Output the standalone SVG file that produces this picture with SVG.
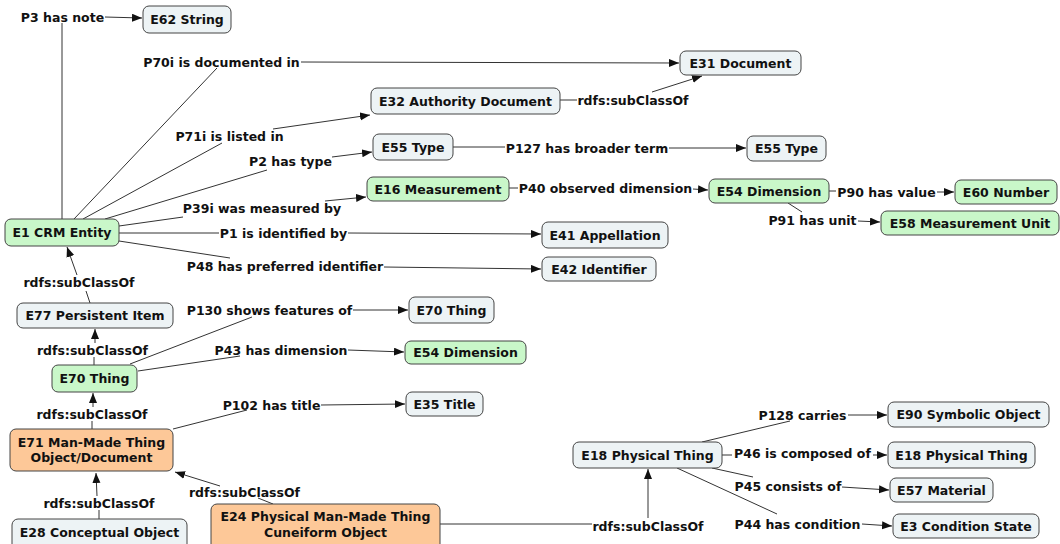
<svg xmlns="http://www.w3.org/2000/svg" width="1060" height="544" viewBox="0 0 1060 544">
<style>
text{font-family:"DejaVu Sans",Verdana,sans-serif;font-weight:bold;font-size:12.5px;fill:#111;text-anchor:middle}
.n rect{stroke:#444;stroke-width:1;rx:6;ry:6}
.g rect{fill:#edf3f5}
.v rect{fill:#c9f7c9}
.o rect{fill:#fdc898}
#edges path{fill:none;stroke:#333;stroke-width:1}
#edges path.a{marker-end:url(#ar)}
</style>
<defs>
<marker id="ar" markerUnits="userSpaceOnUse" markerWidth="11" markerHeight="9" refX="10" refY="4" orient="auto">
<path d="M0,0 L10,4 L0,8 z" fill="#111"/>
</marker>
</defs>
<rect width="1060" height="544" fill="#fff"/>
<g id="edges">
<path d="M62,219 L62,23"/><path class="a" d="M105,17 L142,18"/>
<path d="M74,219 L217,68"/><path class="a" d="M301,62 L679,63"/>
<path d="M83,219 L222,143"/><path class="a" d="M273,129 L370,115"/>
<path d="M105,219 L267,170"/><path class="a" d="M332,157 L372,152"/>
<path d="M119,226 L183,217"/><path class="a" d="M325,201 L366,197"/>
<path d="M119,233 L219,233"/><path class="a" d="M348,233 L541,234"/>
<path d="M119,241 L230,258"/><path class="a" d="M384,267 L541,269"/>
<path d="M560,100 L577,100"/><path class="a" d="M652,92 L702,76"/>
<path d="M453,147 L505,147"/><path class="a" d="M669,148 L746,148"/>
<path d="M509,188 L518,188"/><path class="a" d="M693,189 L708,190"/>
<path d="M829,191 L836,191"/><path class="a" d="M937,192 L954,192"/>
<path d="M788,203 L802,212"/><path class="a" d="M858,221 L880,222"/>
<path d="M90,303 L86,291"/><path class="a" d="M77,275 L67,247"/>
<path d="M94,365 L94,357"/><path class="a" d="M95,343 L95,329"/>
<path d="M130,364 L252,317"/><path class="a" d="M353,310 L408,310"/>
<path d="M138,371 L240,356"/><path class="a" d="M348,350 L404,352"/>
<path d="M92,429 L92,421"/><path class="a" d="M93,407 L93,393"/>
<path d="M173,429 L247,410"/><path class="a" d="M321,405 L405,404"/>
<path d="M99,519 L99,510"/><path class="a" d="M97,496 L96,473"/>
<path d="M273,504 L258,498"/><path class="a" d="M220,486 L175,472"/>
<path d="M440,524 L592,524"/><path class="a" d="M648,518 L648,469"/>
<path d="M702,442 L790,421"/><path class="a" d="M848,415 L887,415"/>
<path d="M722,455 L732,455"/><path class="a" d="M873,455 L887,455"/>
<path d="M712,468 L753,477"/><path class="a" d="M842,487 L889,490"/>
<path d="M677,468 L777,514"/><path class="a" d="M862,524 L892,526"/>
</g>
<g id="labels">
<text x="62.5" y="21.5">P3 has note</text>
<text x="221.5" y="66.5">P70i is documented in</text>
<text x="229.5" y="140.5">P71i is listed in</text>
<text x="290.5" y="165.5">P2 has type</text>
<text x="262" y="212.5">P39i was measured by</text>
<text x="283.5" y="237.5">P1 is identified by</text>
<text x="285" y="270.5">P48 has preferred identifier</text>
<text x="633" y="104.5">rdfs:subClassOf</text>
<text x="587" y="152.5">P127 has broader term</text>
<text x="605.5" y="192.5">P40 observed dimension</text>
<text x="886.5" y="196.5">P90 has value</text>
<text x="812.5" y="224.5">P91 has unit</text>
<text x="79" y="286.5">rdfs:subClassOf</text>
<text x="269.5" y="314.5">P130 shows features of</text>
<text x="92.5" y="354.5">rdfs:subClassOf</text>
<text x="281" y="354.5">P43 has dimension</text>
<text x="92" y="418.5">rdfs:subClassOf</text>
<text x="271.5" y="409.5">P102 has title</text>
<text x="99" y="507.5">rdfs:subClassOf</text>
<text x="244.5" y="496.5">rdfs:subClassOf</text>
<text x="802.5" y="419.5">P128 carries</text>
<text x="802.5" y="457.5">P46 is composed of</text>
<text x="788" y="490.5">P45 consists of</text>
<text x="797.5" y="528.5">P44 has condition</text>
<text x="648" y="530.5">rdfs:subClassOf</text>
</g>
<g id="n_e62" class="n g"><rect x="143" y="6" width="88" height="27"/><text x="187" y="24">E62 String</text></g>
<g id="n_e31" class="n g"><rect x="680" y="51" width="121" height="24"/><text x="740.5" y="67.5">E31 Document</text></g>
<g id="n_e32" class="n g"><rect x="371" y="88" width="189" height="26"/><text x="465.5" y="105.5">E32 Authority Document</text></g>
<g id="n_e55a" class="n g"><rect x="373" y="134" width="80" height="26"/><text x="413" y="151.5">E55 Type</text></g>
<g id="n_e55b" class="n g"><rect x="747" y="136" width="79" height="25"/><text x="786.5" y="153">E55 Type</text></g>
<g id="n_e16" class="n v"><rect x="367" y="177" width="142" height="24"/><text x="438" y="193.5">E16 Measurement</text></g>
<g id="n_e54a" class="n v"><rect x="709" y="179" width="120" height="24"/><text x="769" y="195.5">E54 Dimension</text></g>
<g id="n_e60" class="n v"><rect x="955" y="180" width="102" height="24"/><text x="1006" y="196.5">E60 Number</text></g>
<g id="n_e58" class="n v"><rect x="881" y="211" width="178" height="24"/><text x="970" y="227.5">E58 Measurement Unit</text></g>
<g id="n_e1" class="n v"><rect x="5" y="219" width="114" height="27"/><text x="62" y="237">E1 CRM Entity</text></g>
<g id="n_e41" class="n g"><rect x="542" y="222" width="126" height="26"/><text x="605" y="239.5">E41 Appellation</text></g>
<g id="n_e42" class="n g"><rect x="542" y="257" width="114" height="24"/><text x="599" y="273.5">E42 Identifier</text></g>
<g id="n_e77" class="n g"><rect x="17" y="303" width="156" height="25"/><text x="95" y="320">E77 Persistent Item</text></g>
<g id="n_e70b" class="n g"><rect x="409" y="297" width="85" height="26"/><text x="451.5" y="314.5">E70 Thing</text></g>
<g id="n_e54b" class="n v"><rect x="405" y="341" width="121" height="23"/><text x="465.5" y="357">E54 Dimension</text></g>
<g id="n_e70a" class="n v"><rect x="52" y="365" width="85" height="27"/><text x="94.5" y="383">E70 Thing</text></g>
<g id="n_e35" class="n g"><rect x="406" y="392" width="77" height="24"/><text x="444.5" y="408.5">E35 Title</text></g>
<g id="n_e71" class="n o"><rect x="10" y="429" width="163" height="42"/><text x="91.5" y="446.5">E71 Man-Made Thing</text><text x="91.5" y="461.5">Object/Document</text></g>
<g id="n_e28" class="n g"><rect x="12" y="519" width="175" height="32"/><text x="99.5" y="536.5">E28 Conceptual Object</text></g>
<g id="n_e24" class="n o"><rect x="211" y="504" width="229" height="46"/><text x="325.5" y="520.5">E24 Physical Man-Made Thing</text><text x="325.5" y="536.5">Cuneiform Object</text></g>
<g id="n_e18a" class="n g"><rect x="573" y="442" width="149" height="26"/><text x="647.5" y="459.5">E18 Physical Thing</text></g>
<g id="n_e90" class="n g"><rect x="888" y="402" width="161" height="25"/><text x="968.5" y="419">E90 Symbolic Object</text></g>
<g id="n_e18b" class="n g"><rect x="888" y="442" width="147" height="26"/><text x="961.5" y="459.5">E18 Physical Thing</text></g>
<g id="n_e57" class="n g"><rect x="890" y="478" width="103" height="24"/><text x="941.5" y="494.5">E57 Material</text></g>
<g id="n_e3" class="n g"><rect x="893" y="514" width="146" height="24"/><text x="966" y="530.5">E3 Condition State</text></g>
</svg>
